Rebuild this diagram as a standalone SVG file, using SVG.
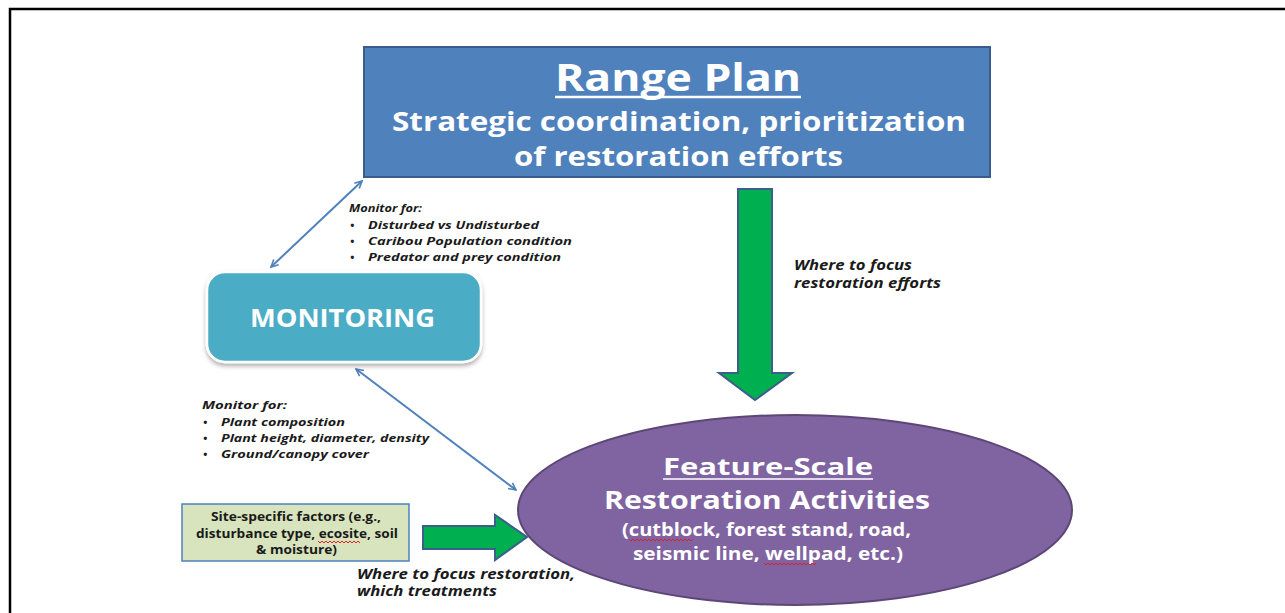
<svg xmlns="http://www.w3.org/2000/svg" width="1285" height="613" viewBox="0 0 1285 613">
<defs>
<style>
.t{font-family:"Open Sans","Liberation Sans",sans-serif;font-weight:bold}
.w{fill:#ffffff}
.k{fill:#1a1a1a;font-style:italic}
.conn{stroke:#4F81BD;stroke-width:2;fill:none}
.green{fill:#00B050;stroke:#3B5E8C;stroke-width:2}
.sq{stroke:#e02020;stroke-width:1;fill:none}
</style>
<marker id="ah" viewBox="0 0 10 10" refX="9" refY="5" markerWidth="9" markerHeight="9" markerUnits="userSpaceOnUse" orient="auto-start-reverse">
<path d="M1,1 L9,5 L1,9" fill="none" stroke="#4F81BD" stroke-width="1.8"/>
</marker>
<filter id="sh" x="-10%" y="-10%" width="120%" height="130%">
<feDropShadow dx="0" dy="3" stdDeviation="2" flood-color="#000" flood-opacity="0.3"/>
</filter>
</defs>
<rect width="1285" height="613" fill="#ffffff"/>
<path d="M10,613 L10,9 L1285,9" fill="none" stroke="#000" stroke-width="2.5"/>

<g id="connectors">
<line class="conn" x1="362" y1="181" x2="271" y2="267" marker-start="url(#ah)" marker-end="url(#ah)"/>
<line class="conn" x1="356" y1="369" x2="516" y2="490" marker-start="url(#ah)" marker-end="url(#ah)"/>
<path class="green" d="M738,189 L772,189 L772,373 L792,373 L755,400 L719,373 L738,373 Z"/>
<path class="green" d="M423,526 L495,526 L495,515 L527,537 L495,560 L495,549 L423,549 Z"/>
<text class="t k" font-size="13.5" x="794" y="270" textLength="118" lengthAdjust="spacingAndGlyphs">Where to focus</text>
<text class="t k" font-size="13.5" x="794" y="288" textLength="147" lengthAdjust="spacingAndGlyphs">restoration efforts</text>
<text class="t k" font-size="13.5" x="357" y="579" textLength="218" lengthAdjust="spacingAndGlyphs">Where to focus restoration,</text>
<text class="t k" font-size="13.5" x="357" y="596" textLength="140" lengthAdjust="spacingAndGlyphs">which treatments</text>
<g id="monitor-label-1" class="t k" font-size="11">
<text x="349" y="212" textLength="73" lengthAdjust="spacingAndGlyphs">Monitor for:</text>
<text x="350" y="229">•</text><text x="368" y="229" textLength="171" lengthAdjust="spacingAndGlyphs">Disturbed vs Undisturbed</text>
<text x="350" y="245">•</text><text x="368" y="245" textLength="204" lengthAdjust="spacingAndGlyphs">Caribou Population condition</text>
<text x="350" y="261">•</text><text x="368" y="261" textLength="193" lengthAdjust="spacingAndGlyphs">Predator and prey condition</text>
</g>
<g id="monitor-label-2" class="t k" font-size="11">
<text x="202" y="409" textLength="85" lengthAdjust="spacingAndGlyphs">Monitor for:</text>
<text x="203" y="426">•</text><text x="221" y="426" textLength="124" lengthAdjust="spacingAndGlyphs">Plant composition</text>
<text x="203" y="442">•</text><text x="221" y="442" textLength="208" lengthAdjust="spacingAndGlyphs">Plant height, diameter, density</text>
<text x="203" y="458">•</text><text x="221" y="458" textLength="148" lengthAdjust="spacingAndGlyphs">Ground/canopy cover</text>
</g>
</g>

<g id="range-plan">
<rect x="364" y="47" width="626" height="130" fill="#4F81BD" stroke="#385D8A" stroke-width="2"/>
<text class="t w" font-size="37" x="555" y="91" textLength="246" lengthAdjust="spacingAndGlyphs">Range Plan</text>
<line x1="555" y1="97" x2="801" y2="97" stroke="#fff" stroke-width="2.5"/>
<text class="t w" font-size="27" x="392" y="131" textLength="574" lengthAdjust="spacingAndGlyphs">Strategic coordination, prioritization</text>
<text class="t w" font-size="27" x="514" y="166" textLength="329" lengthAdjust="spacingAndGlyphs">of restoration efforts</text>
</g>

<g id="monitoring">
<rect x="207" y="272" width="274" height="90" rx="18" fill="#4BACC6" stroke="#ffffff" stroke-width="2.5" filter="url(#sh)"/>
<text class="t w" font-size="25" font-weight="600" x="250" y="327" textLength="185" lengthAdjust="spacingAndGlyphs">MONITORING</text>
</g>

<g id="site-factors">
<rect x="182" y="504" width="227" height="57" fill="#D7E4BD" stroke="#4F81BD" stroke-width="1.5"/>
<g class="t" font-size="12" fill="#1a1a1a">
<text x="211" y="521" textLength="170" lengthAdjust="spacingAndGlyphs">Site-specific factors (e.g.,</text>
<text x="196" y="538" textLength="202" lengthAdjust="spacingAndGlyphs">disturbance type, ecosite, soil</text>
<text x="256" y="554" textLength="81" lengthAdjust="spacingAndGlyphs">&amp; moisture)</text>
</g>
<path class="sq" d="M318,541 l2,2 l2,-2 l2,2 l2,-2 l2,2 l2,-2 l2,2 l2,-2 l2,2 l2,-2 l2,2 l2,-2 l2,2 l2,-2 l2,2 l2,-2 l2,2 l2,-2 l2,2 l2,-2 l2,2"/>
</g>

<g id="feature-scale">
<ellipse cx="795" cy="510" rx="277" ry="95" fill="#8064A2" stroke="#5C4776" stroke-width="2"/>
<text class="t w" font-size="24" font-weight="600" x="663" y="475" textLength="210" lengthAdjust="spacingAndGlyphs">Feature-Scale</text>
<line x1="663" y1="479" x2="873" y2="479" stroke="#fff" stroke-width="1.5"/>
<text class="t w" font-size="25" font-weight="600" x="604" y="509" textLength="326" lengthAdjust="spacingAndGlyphs">Restoration Activities</text>
<text class="t w" font-size="18" x="622" y="536" textLength="289" lengthAdjust="spacingAndGlyphs">(cutblock, forest stand, road,</text>
<text class="t w" font-size="18" x="633" y="560" textLength="270" lengthAdjust="spacingAndGlyphs">seismic line, wellpad, etc.)</text>
<path class="sq" d="M629,539 l2,2 l2,-2 l2,2 l2,-2 l2,2 l2,-2 l2,2 l2,-2 l2,2 l2,-2 l2,2 l2,-2 l2,2 l2,-2 l2,2 l2,-2 l2,2 l2,-2 l2,2 l2,-2 l2,2 l2,-2 l2,2 l2,-2 l2,2 l2,-2 l2,2 l2,-2 l2,2 l2,-2 l2,2 l2,-2"/>
<path class="sq" d="M764,563 l2,2 l2,-2 l2,2 l2,-2 l2,2 l2,-2 l2,2 l2,-2 l2,2 l2,-2 l2,2 l2,-2 l2,2 l2,-2 l2,2 l2,-2 l2,2 l2,-2 l2,2 l2,-2 l2,2 l2,-2 l2,2 l2,-2 l2,2 l2,-2"/>
</g>
</svg>
